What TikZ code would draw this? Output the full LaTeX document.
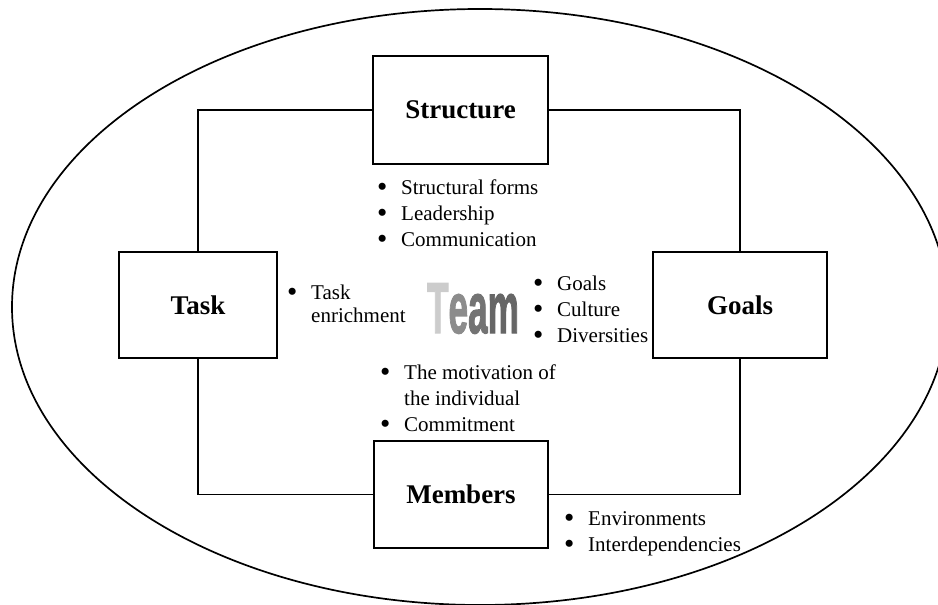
\documentclass[tikz,border=0pt]{standalone}
\usepackage{fontspec}
\setmainfont{Liberation Serif}
\newfontfamily\teamfont{Liberation Sans}[BoldFeatures={FakeBold=2}]
% bullet followed by a fixed tab
\newcommand\bitem{\makebox[24pt][l]{\raisebox{-2.6pt}{\scalebox{1.4}{\textbullet}}}}
\newcommand\bskip{\hspace*{24pt}}
\begin{document}
\begin{tikzpicture}[x=1pt,y=-1pt,
  box/.style={draw, line width=1.7pt, rectangle, inner sep=0pt,
    font=\bfseries\fontsize{27}{32}\selectfont},
  link/.style={line width=1.7pt},
  blist/.style={inner sep=0pt, anchor=base west,
    font=\fontsize{21}{26}\selectfont}]
\useasboundingbox (0,0) rectangle (938,605);

% surrounding environment
\draw[line width=1.7pt] (480,307) ellipse [x radius=468, y radius=298];

% the four elements
\node[box, minimum width=175pt, minimum height=108pt] (structure) at (460.5,110) {Structure};
\node[box, minimum width=158pt, minimum height=106pt] (task) at (198,305) {Task};
\node[box, minimum width=174pt, minimum height=106pt] (goals) at (740,305) {Goals};
\node[box, minimum width=174pt, minimum height=107pt] (members) at (461,494.5) {Members};

% frame linking them
\draw[link] (task.north) |- (structure.west);
\draw[link] (structure.east) -| (goals.north);
\draw[link] (task.south) |- (members.west);
\draw[link] (members.east) -| (goals.south);

% bullet lists
\node[blist] (lstructure) at (377,194) {\begin{tabular}[t]{@{}l@{}}
  \bitem Structural forms\\ \bitem Leadership\\ \bitem Communication\end{tabular}};
\node[blist] (ltask) at (287,299) {\begin{tabular}[t]{@{}l@{}}
  \bitem Task\\[-3pt] \bskip enrichment\end{tabular}};
\node[blist] (lgoals) at (533,290) {\begin{tabular}[t]{@{}l@{}}
  \bitem Goals\\ \bitem Culture\\ \bitem Diversities\end{tabular}};
\node[blist] (lmembers) at (380,379) {\begin{tabular}[t]{@{}l@{}}
  \bitem The motivation of\\ \bskip the individual\\ \bitem Commitment\end{tabular}};
\node[blist] (lenv) at (564,525) {\begin{tabular}[t]{@{}l@{}}
  \bitem Environments\\ \bitem Interdependencies\end{tabular}};

% central word
\node[inner sep=0pt, anchor=base] (team) at (473,333)
  {\scalebox{0.95}[1.95]{\teamfont\bfseries\fontsize{37}{40}\selectfont
   \textcolor{black!20}{T}\textcolor{black!45}{e}\textcolor{black!55}{a}\textcolor{black!60}{m}}};
\end{tikzpicture}
\end{document}
